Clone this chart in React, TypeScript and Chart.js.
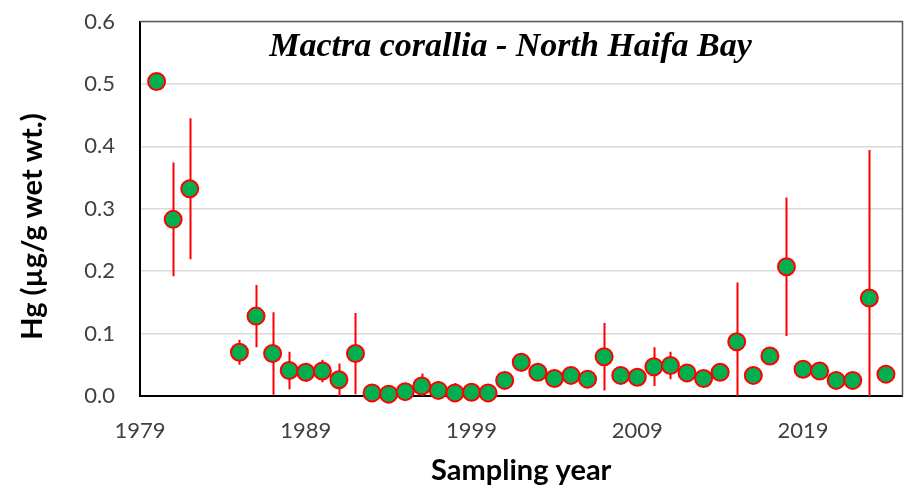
import React, { useEffect, useRef } from "react";
import { Chart, registerables } from "chart.js";

Chart.register(...registerables);

// ---- Data ----
const years = [
  1980, 1981, 1982, 1985, 1986, 1987, 1988, 1989, 1990, 1991, 1992, 1993, 1994,
  1995, 1996, 1997, 1998, 1999, 2000, 2001, 2002, 2003, 2004, 2005, 2006, 2007,
  2008, 2009, 2010, 2011, 2012, 2013, 2014, 2015, 2016, 2017, 2018, 2019, 2020,
  2021, 2022, 2023, 2024,
];
const means = [
  0.504, 0.283, 0.332, 0.070, 0.128, 0.068, 0.041, 0.038, 0.040, 0.026, 0.068,
  0.005, 0.003, 0.007, 0.016, 0.009, 0.005, 0.006, 0.005, 0.025, 0.054, 0.038,
  0.028, 0.033, 0.027, 0.063, 0.033, 0.030, 0.047, 0.049, 0.037, 0.028, 0.038,
  0.087, 0.033, 0.064, 0.207, 0.043, 0.040, 0.025, 0.025, 0.157, 0.035,
];
const errors = [
  0, 0.091, 0.113, 0.020, 0.050, 0.066, 0.030, 0.015, 0.018, 0.026, 0.065,
  0, 0, 0, 0.020, 0.015, 0.016, 0, 0, 0, 0.015, 0,
  0, 0, 0, 0.054, 0, 0, 0.031, 0.022, 0, 0, 0,
  0.095, 0, 0, 0.111, 0, 0, 0, 0, 0.237, 0,
];
const xTickValues = [1979, 1989, 1999, 2009, 2019];
const xMin = 1979;
const xMax = 2025;
const yMin = 0;
const yMax = 0.6;
const yStep = 0.1;

const chartTitle = "Mactra corallia - North Haifa Bay";
const xTitle = "Sampling year";
const yTitle = "Hg (µg/g wet wt.)";

const GREEN = "#00b050";
const RED = "#ff0000";

const decorPlugin = {
  id: "decor",
  beforeDatasetsDraw(chart: any) {
    const { ctx, chartArea: a, scales } = chart;
    const xs = scales.x;
    const ys = scales.y;
    ctx.save();
    // plot area frame (top + right)
    ctx.strokeStyle = "#595959";
    ctx.lineWidth = 1.5;
    ctx.beginPath();
    ctx.moveTo(a.left, a.top);
    ctx.lineTo(a.right, a.top);
    ctx.lineTo(a.right, a.bottom);
    ctx.stroke();
    // error bars
    ctx.beginPath();
    ctx.rect(a.left, a.top, a.right - a.left, a.bottom - a.top);
    ctx.clip();
    ctx.strokeStyle = RED;
    ctx.lineWidth = 2;
    years.forEach((yr, i) => {
      const e = errors[i];
      if (!e) return;
      const px = Math.round(xs.getPixelForValue(yr)) + 0.5;
      ctx.beginPath();
      ctx.moveTo(px, ys.getPixelForValue(means[i] + e));
      ctx.lineTo(px, ys.getPixelForValue(means[i] - e));
      ctx.stroke();
    });
    ctx.restore();
  },
  afterDraw(chart: any) {
    const { ctx, chartArea: a } = chart;
    ctx.save();
    ctx.fillStyle = "#000000";
    // chart title inside plot
    ctx.font = "bold italic 34px 'Liberation Serif'";
    ctx.textAlign = "center";
    ctx.textBaseline = "alphabetic";
    ctx.fillText(chartTitle, a.left + (a.right - a.left) * 0.486, a.top + 34);
    // x title
    ctx.font = "bold 29px Lato";
    ctx.fillText(xTitle, (a.left + a.right) / 2, 480);
    // y title
    ctx.translate(41.5, 226.5);
    ctx.rotate(-Math.PI / 2);
    ctx.fillText(yTitle, 0, 0);
    ctx.restore();
  },
};

export default function App() {
  const canvasRef = useRef<HTMLCanvasElement | null>(null);

  useEffect(() => {
    if (!canvasRef.current) return;
    const chart = new Chart(canvasRef.current, {
      type: "scatter",
      data: {
        datasets: [
          {
            data: years.map((y, i) => ({ x: y, y: means[i] })),
            backgroundColor: GREEN,
            borderColor: RED,
            borderWidth: 2,
            pointRadius: 8.5,
            pointHoverRadius: 8.5,
            showLine: false,
            clip: false as any,
          },
        ],
      },
      options: {
        animation: false,
        responsive: false,
        devicePixelRatio: 1,
        layout: {
          autoPadding: false,
          padding: { left: 0, top: 21.5, right: 2.5, bottom: 0 },
        },
        plugins: {
          legend: { display: false },
          tooltip: { enabled: false },
          title: { display: false },
        },
        scales: {
          x: {
            type: "linear",
            min: xMin,
            max: xMax,
            afterFit: (s: any) => {
              s.height = 95;
              s.paddingLeft = 0;
              s.paddingRight = 0;
            },
            afterBuildTicks: (s: any) => {
              s.ticks = xTickValues.map((v) => ({ value: v }));
            },
            grid: { display: false, drawTicks: false },
            border: { display: true, color: "#000000", width: 2 },
            ticks: {
              padding: 22,
              color: "#404040",
              font: { family: "Lato", size: 22 },
              maxRotation: 0,
              autoSkip: false,
              callback: (v: any) => String(v),
            },
          },
          y: {
            type: "linear",
            min: yMin,
            max: yMax,
            afterFit: (s: any) => {
              s.width = 140;
              s.paddingTop = 0;
              s.paddingBottom = 0;
            },
            grid: {
              drawTicks: false,
              lineWidth: 1.5,
              color: (c: any) =>
                c.tick && c.tick.value === 0 ? "rgba(0,0,0,0)" : "#d9d9d9",
            },
            border: { display: true, color: "#000000", width: 2 },
            ticks: {
              stepSize: yStep,
              padding: 25,
              color: "#404040",
              font: { family: "Lato", size: 22 },
              callback: (v: any) => Number(v).toFixed(1),
            },
          },
        },
      },
      plugins: [decorPlugin],
    });
    return () => chart.destroy();
  }, []);

  return (
    <div style={{ position: "absolute", left: 0, top: 0, width: 905, height: 491, background: "#fff" }}>
      <canvas ref={canvasRef} width={905} height={491} style={{ display: "block" }} />
    </div>
  );
}
